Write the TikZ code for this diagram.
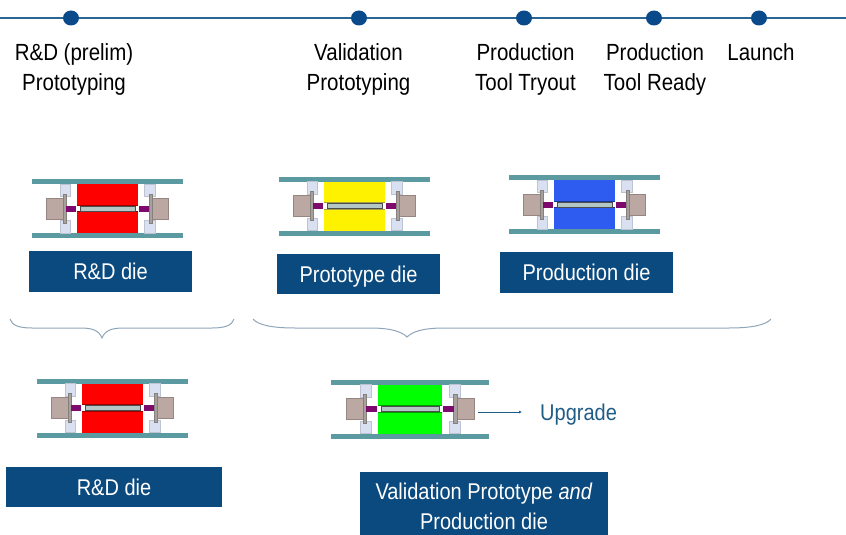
\documentclass[tikz,border=0pt]{standalone}
\usepackage{fontspec}
\usetikzlibrary{arrows.meta,shapes.geometric}
\setmainfont{Liberation Sans}
\definecolor{lineblue}{HTML}{2A6796}
\definecolor{dotblue}{HTML}{0B4A8A}
\definecolor{boxblue}{HTML}{0B4A7E}
\definecolor{textblue}{HTML}{1F5C86}
\definecolor{plate}{HTML}{5B9AA0}
\definecolor{bolster}{HTML}{D8E0F2}
\definecolor{brownblk}{HTML}{BBA8A2}
\definecolor{flange}{HTML}{A8A09C}
\definecolor{pinpurple}{HTML}{7F0A6E}
\definecolor{rodgray}{HTML}{B4C6C6}
\definecolor{bracec}{HTML}{8FA6B8}
\definecolor{dieblue}{HTML}{2E5CF0}
\newcommand\tall[1]{\scalebox{1}[1.14]{#1}}
\tikzset{
  x=1pt,y=-1pt,
  lbl/.style={font=\fontsize{20.5}{30}\selectfont,align=center,text=black,inner sep=0pt},
  dot/.style={ellipse,fill=dotblue,draw=none,minimum width=16pt,minimum height=15pt,inner sep=0pt},
  diebox/.style={fill=boxblue,text=white,font=\fontsize{20}{30}\selectfont,align=center,inner sep=0pt},
  onebox/.style={diebox,text height=20pt,text depth=4pt},
  bracel/.style={draw=bracec,line width=1pt},
  pics/die/.style={code={
    \fill[plate] (-75.5,-29.5) rectangle (75.5,-24.5);
    \fill[plate] (-75.5,24.5) rectangle (75.5,29.5);
    \foreach \s in {-1,1}{
      \begin{scope}[xscale=\s]
      \fill[bolster,draw=bolster!70!gray,line width=.4pt] (37,-24.5) rectangle (47.5,-12);
      \fill[bolster,draw=bolster!70!gray,line width=.4pt] (37,12) rectangle (47.5,24.5);
      \fill[brownblk,draw=brownblk!80!black,line width=.3pt] (44.5,-10.5) rectangle (61,10.5);
      \fill[flange,draw=flange!80!black,line width=.3pt] (41.5,-14.5) rectangle (44.5,14.5);
      \fill[pinpurple] (31.5,-3) rectangle (41.5,3);
      \end{scope}
    }
    \fill[#1] (-30.5,-24.5) rectangle (30.5,24.5);
    \fill[#1!60!black] (-30.5,-3.8) rectangle (30.5,3.8);
    \fill[white] (-30.5,-2.8) rectangle (30.5,2.8);
    \fill[rodgray,draw=black!70,line width=.5pt] (-27.5,-2.6) rectangle (27.5,2.6);
  }}
}
\begin{document}
\begin{tikzpicture}
\useasboundingbox (0,0) rectangle (846,535);
% timeline
\coordinate (tlL) at (0,18);
\coordinate (tlR) at (846,18);
\draw[lineblue,line width=1.2pt] (tlL) -- (tlR);
\node[dot] (d1) at (71,18) {};
\node[dot] (d2) at (359,18) {};
\node[dot] (d3) at (524,18) {};
\node[dot] (d4) at (654,18) {};
\node[dot] (d5) at (759,18) {};
\node[lbl] (t1) at (74,69) {\tall{R\&D (prelim)}\\\tall{Prototyping}};
\node[lbl] (t2) at (358.5,69) {\tall{Validation}\\\tall{Prototyping}};
\node[lbl] (t3) at (525.5,69) {\tall{Production}\\\tall{Tool Tryout}};
\node[lbl] (t4) at (655,69) {\tall{Production}\\\tall{Tool Ready}};
\node[lbl,anchor=base] (t5) at (761,61) {\tall{Launch}};
% dies
\pic at (107.5,208.5) {die=red};
\pic at (354.5,206) {die=yellow};
\pic at (584.5,204.5) {die=dieblue};
\pic at (112.5,408) {die=red};
\pic[xscale=1.05] at (410,409) {die=green};
% labels
\node[onebox,minimum width=163pt,minimum height=41pt] (b1) at (110.5,271.5) {\tall{R\&D die}};
\node[onebox,minimum width=163pt,minimum height=40pt] (b2) at (358.5,274) {\tall{Prototype die}};
\node[onebox,minimum width=173pt,minimum height=41pt] (b3) at (586.5,272.5) {\tall{Production die}};
\node[onebox,minimum width=216pt,minimum height=40pt] (b4) at (114,487) {\tall{R\&D die}};
\node[diebox,minimum width=248pt,minimum height=64pt] (b5) at (484,503.5) {};
\node[font=\fontsize{20}{30}\selectfont,text=white,align=center,inner sep=0pt] (b5t) at (484,506.5) {\tall{Validation Prototype \textit{and}}\\\tall{Production die}};
% braces
\coordinate (bA) at (10,319);
\coordinate (bB) at (234,319);
\coordinate (bTip) at (102,338);
\draw[bracel] (bA) .. controls (12,325) and (18,328) .. (32,328) -- (80,328)
  .. controls (94,328) and (99,331) .. (bTip)
  .. controls (105,331) and (110,328) .. (124,328) -- (212,328)
  .. controls (226,328) and (232,325) .. (bB);
\coordinate (cA) at (253,319);
\coordinate (cB) at (771,319);
\coordinate (cTip) at (407,337);
\draw[bracel] (cA) .. controls (258,325) and (272,328) .. (295,328) -- (370,328)
  .. controls (392,328) and (402,332) .. (cTip)
  .. controls (412,332) and (422,328) .. (444,328) -- (729,328)
  .. controls (752,328) and (766,325) .. (cB);
% upgrade
\node[font=\fontsize{20}{24}\selectfont,text=textblue,inner sep=0pt,anchor=west] (up) at (540,415) {\tall{Upgrade}};
\coordinate (upS) at (478,412);
\coordinate (upE) at (522,412);
\draw[textblue,line width=.6pt,-{Latex[length=3pt,width=3pt]}] (upS) -- (upE);
\end{tikzpicture}
\end{document}
